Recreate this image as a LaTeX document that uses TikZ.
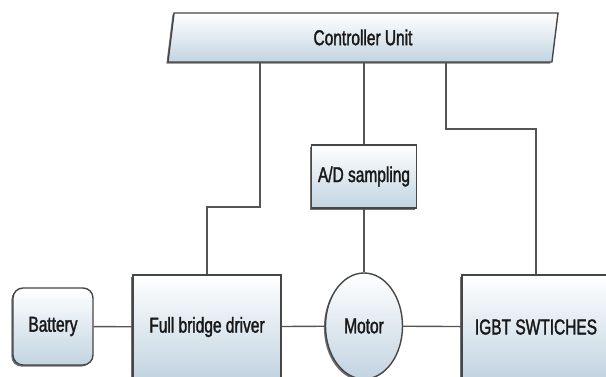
\documentclass[tikz,border=0pt]{standalone}
\usepackage{fontspec}
\newfontfamily\lblfont{Liberation Sans}[FakeStretch=0.72,FakeBold=1.6]
\usetikzlibrary{calc,positioning,shapes.geometric,shadows}
\definecolor{boxblue}{RGB}{194,212,225}
\definecolor{edgegray}{RGB}{70,70,70}
\definecolor{wiregray}{RGB}{85,85,85}

\begin{document}
\begin{tikzpicture}[x=1pt, y=1pt
        , every node/.style={ font=\lblfont\fontsize{21.5}{25}\selectfont, text=black!90, inner sep=0pt }
        , block/.style={ draw=edgegray, line width=1.4pt, top color=white, bottom color=boxblue,
                drop shadow={shadow xshift=-1.6pt, shadow yshift=-1.6pt, fill=black!75, opacity=.75} }
        , wire/.style={ draw=wiregray, line width=1.4pt }
        ]

        \useasboundingbox (0,0) rectangle (606,377);
        \clip (0,0) rectangle (606,377);

        % Controller sits on top of everything.
        \node[block, trapezium, trapezium left angle=69, trapezium right angle=111,
              trapezium stretches body, minimum width=390pt, minimum height=49pt]
              (ctrl) at (363,339.5) {Controller Unit};

        \node[block, rectangle, minimum width=105pt, minimum height=63pt] (ad) at (364,200.5) {A/D sampling};

        % Power path along the bottom row.
        \node[block, rectangle, rounded corners=10pt, minimum width=80pt, minimum height=77pt]
              (bat) at (53,50.5) {Battery};
        \node[block, rectangle, minimum width=148pt, minimum height=104pt] (fbd) at (207,50) {Full bridge driver};
        \node[block, ellipse, minimum width=77pt, minimum height=106pt] (motor) at (364,51) {Motor};
        \node[block, rectangle, minimum width=148pt, minimum height=104pt] (igbt) at (536,50) {IGBT SWTICHES};

        \path[wire] (bat) -- (fbd)
                    (fbd) -- (motor)
                    (motor) -- (igbt);

        % Sampling loop from motor back up to the controller.
        \path[wire] (motor) -- (ad)
                    (ad) -- (ad |- ctrl.south);

        % Controller drives the bridge and the switches.
        \coordinate (jogL) at (260,170);
        \coordinate (jogR) at (446,248);
        \path[wire] (fbd.north) |- (jogL) -- (jogL |- ctrl.south);
        \path[wire] (igbt.north) |- (jogR) -- (jogR |- ctrl.south);

    \end{tikzpicture}
\end{document}
